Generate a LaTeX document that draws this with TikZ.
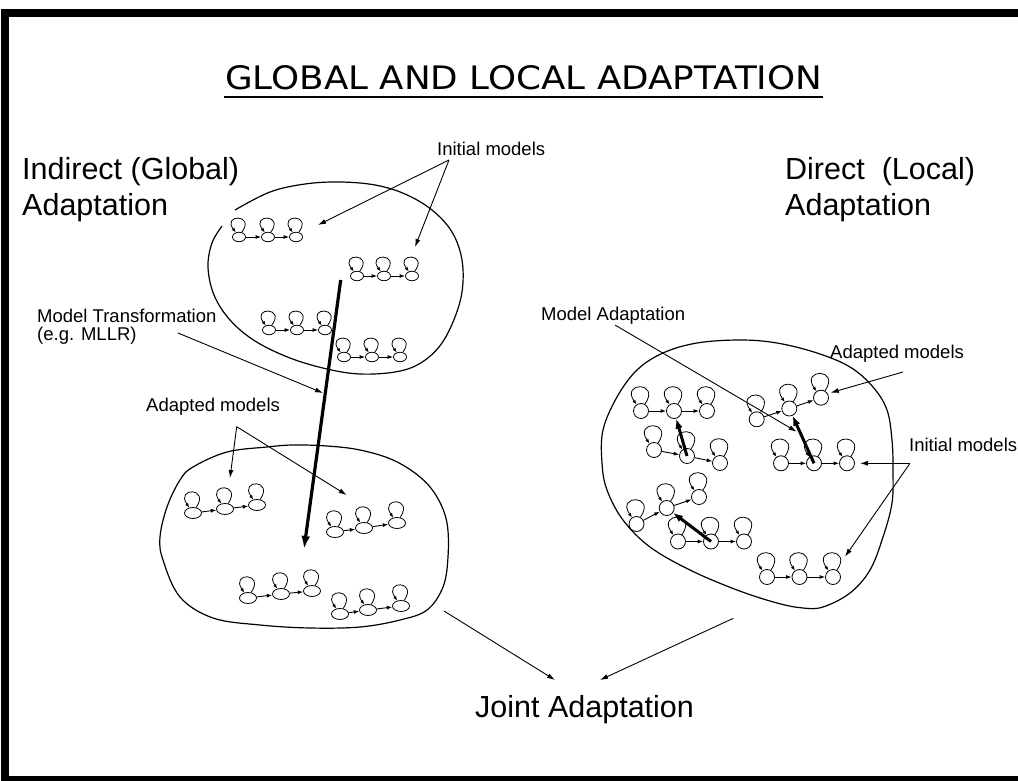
\documentclass[tikz,border=0pt]{standalone}
\usepackage{fontspec}
\setmainfont{Liberation Sans}
\newfontfamily\titlefont{DejaVu Sans}
\usetikzlibrary{arrows.meta,shapes.geometric}

% three-state left-to-right HMM: name, state style, loop spread, loop height, three centres
\newcommand\hmmchain[7]{%
  \node[#2] (#1-1) at (#5) {};
  \node[#2] (#1-2) at (#6) {};
  \node[#2] (#1-3) at (#7) {};
  \foreach \k in {1,2,3}
    \draw[selfloop] (#1-\k.60) .. controls +(#3,-#4) and +(-#3,-#4) .. (#1-\k.125);
  \draw[trans] (#1-1) -- (#1-2);
  \draw[trans] (#1-2) -- (#1-3);
}

\begin{document}
\begin{tikzpicture}[x=1pt,y=-1pt,
  stS/.style={draw, ellipse, line width=0.8pt, minimum width=13pt, minimum height=9.5pt, inner sep=0pt},
  stM/.style={draw, ellipse, line width=0.8pt, minimum width=17pt, minimum height=11pt, inner sep=0pt},
  stL/.style={draw, circle, line width=0.8pt, minimum size=15pt, inner sep=0pt},
  selfloop/.style={line width=0.8pt, -{Latex[length=4.5pt,width=3.5pt]}},
  trans/.style={line width=0.9pt, -{Latex[length=5.5pt,width=4pt]}},
  pointer/.style={line width=0.9pt, -{Latex[length=8pt,width=5pt]}},
  bold/.style={line width=3.2pt, -{Latex[length=13pt,width=9pt]}},
  boldR/.style={line width=3pt, -{Latex[length=10pt,width=7.5pt]}},
  blob/.style={line width=1.2pt},
  small/.style={inner sep=0pt, anchor=base west, font=\fontsize{18.5}{20}\selectfont},
  big/.style={inner sep=0pt, anchor=base west, font=\fontsize{30.5}{36}\selectfont}]

\useasboundingbox (0,0) rectangle (1018,781);

% page frame (open on the right)
\draw[line width=8pt] (1030,13.5) -- (5,13.5) -- (5,779.5) -- (1030,779.5);

% title
\node[inner sep=0pt, anchor=base west] (title) at (225,90)
  {\resizebox{597pt}{24pt}{\titlefont GLOBAL AND LOCAL ADAPTATION}};
\draw[line width=2.5pt] (title.base west) ++(-1,7) coordinate (ul1) -- ++(599,0) coordinate (ul2);

% headings
\node[big] (indirect) at (22,179) {Indirect (Global)};
\node[big] (indirect2) at (22,215) {Adaptation};
\node[big] (direct) at (785,180) {Direct\ \ (Local)};
\node[big] (direct2) at (785,215) {Adaptation};
\node[big] (joint) at (475,717) {Joint Adaptation};

% model sets
\draw[blob] plot[smooth, tension=0.6] coordinates {(235,210) (270,192) (305,184) (340,182) (375,185) (405,194) (432,210) (452,232) (462,260) (462,292) (453,322) (439,347) (419,364) (395,372) (360,374) (327,369) (290,358) (255,341) (230,320) (214,295) (208,267) (212,243) (222,226)};
\draw[blob] plot[smooth cycle, tension=0.6] coordinates {(193,467) (227,452) (267,447) (293,445) (327,446) (360,450) (393,460) (420,477) (437,497) (447,523) (448,557) (443,587) (427,610) (400,620) (360,627) (310,628) (260,625) (213,618) (180,597) (163,560) (160,537) (167,507) (180,480)};
\draw[blob] plot[smooth cycle, tension=0.6] coordinates {(663,353) (697,343) (740,340) (777,343) (817,353) (850,367) (873,387) (887,410) (892,440) (893,470) (892,503) (883,537) (870,570) (850,593) (823,607) (803,608) (777,603) (737,590) (690,570) (650,547) (623,520) (607,490) (602,463) (603,430) (617,397) (637,370)};

% initial models (global)
\hmmchain{A}{stS}{14}{18.5}{239,237}{268,237}{296,237}
\hmmchain{B}{stS}{14}{18.5}{357,276}{384,276}{412,276}
\hmmchain{C}{stS}{14}{18.5}{269,330}{297,330}{325,330}
\hmmchain{D}{stS}{14}{18.5}{344,357}{372,357}{400,357}

% adapted models (global)
\hmmchain{E}{stM}{14}{20.5}{193,513}{225,509}{257,505}
\hmmchain{F}{stM}{14}{20.5}{335,532}{364,528}{397,523}
\hmmchain{G}{stM}{14}{20.5}{248,598}{281,594}{312,591}
\hmmchain{H}{stM}{14}{20.5}{340,614}{368,610}{401,606}

% local models
\hmmchain{R1}{stL}{16}{23}{641,411}{674,411}{707,411}
\hmmchain{R2}{stL}{16}{23}{654,450}{687,456}{720,463}
\hmmchain{R3}{stL}{16}{23}{636.5,524}{666.7,508}{699,497}
\hmmchain{R4}{stL}{16}{23}{678,541.5}{711,541.5}{744,541.5}
\hmmchain{R5}{stL}{16}{23}{756.7,419.3}{789.3,408.5}{821,397.7}
\hmmchain{R6}{stL}{16}{23}{781,463.3}{814,463.3}{847,463.3}
\hmmchain{R7}{stL}{16}{23}{767,577}{799.5,577}{833,577}

% local adaptation steps
\draw[boldR] (R2-2.center) -- (R1-2);
\draw[boldR] (R4-2.center) -- (R3-2);
\draw[boldR] (R6-2.center) -- (R5-2);

% global transformation
\coordinate (tfrom) at (340.7,280);
\coordinate (tto) at (304,549);
\draw[bold] (tfrom) -- (tto);

% labels
\node[small] (init1) at (437,156) {Initial models};
\node[small] (mtrans) at (37,322) {Model Transformation};
\node[small] (mllr) at (37,340) {(e.g. MLLR)};
\node[small] (adapt1) at (146,411) {Adapted models};
\node[small] (madapt) at (541,320) {Model Adaptation};
\node[small] (adapt2) at (830,358) {Adapted models};
\node[small] (init2) at (909,451.7) {Initial models};

\coordinate (i1) at (449,160);
\coordinate (i1a) at (318,225);
\coordinate (i1b) at (415,247);
\draw[pointer] (i1) -- (i1a);
\draw[pointer] (i1) -- (i1b);

\coordinate (mt) at (178,333);
\coordinate (mtend) at (323,393);
\draw[pointer] (mt) -- (mtend);

\coordinate (a1) at (236.7,426.7);
\coordinate (a1a) at (230,478);
\coordinate (a1b) at (346.7,495);
\draw[pointer] (a1) -- (a1a);
\draw[pointer] (a1) -- (a1b);

\coordinate (ma) at (615,325);
\coordinate (maend) at (796.7,431.7);
\draw[pointer] (ma) -- (maend);

\coordinate (a2) at (903,372);
\coordinate (a2end) at (830.7,392.7);
\draw[pointer] (a2) -- (a2end);

\coordinate (i2) at (910,463.3);
\coordinate (i2a) at (860,463.3);
\coordinate (i2b) at (845,556.7);
\draw[pointer] (i2) -- (i2a);
\draw[pointer] (i2) -- (i2b);

\coordinate (jl) at (444,611);
\coordinate (jr) at (733.3,618.3);
\coordinate (jle) at (555,680);
\coordinate (jre) at (600,680);
\draw[pointer] (jl) -- (jle);
\draw[pointer] (jr) -- (jre);
\end{tikzpicture}
\end{document}
